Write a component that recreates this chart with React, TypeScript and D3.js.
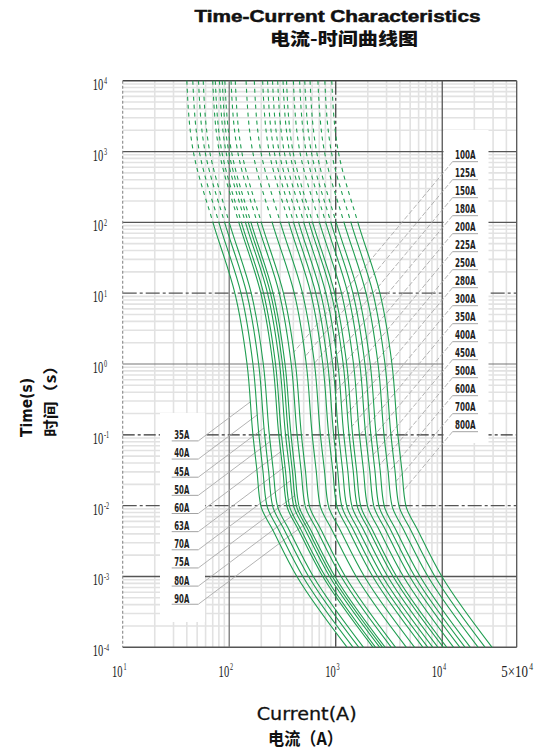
import React from 'react';
import * as d3 from 'd3';

const fuseRatings = ['35A','40A','45A','50A','60A','63A','70A','75A','80A','90A','100A','125A','150A','180A','200A','225A','250A','280A','300A','350A','400A','450A','500A','600A','700A','800A'];

// time points (s) at which the currents below were read
const timePoints = [10000, 1000, 100, 10, 1, 0.1, 0.0316, 0.01, 0.00447, 0.001, 0.0001];

// currents (A) read for each fuse rating at the time points above
const fuseCurrents: number[][] = [
  [40, 46.0, 70.3, 113, 147, 167, 182, 198, 258, 432, 1280],
  [45.5, 52.4, 79.9, 129, 167, 190, 207, 226, 293, 491, 1456],
  [51.5, 59.3, 90.5, 146, 189, 215, 234, 255, 331, 556, 1648],
  [57, 65.6, 100, 161, 209, 238, 259, 283, 367, 616, 1824],
  [70, 80.6, 123, 198, 257, 292, 319, 347, 450, 756, 2240],
  [74, 85.2, 130, 210, 272, 309, 337, 367, 476, 799, 2368],
  [81, 93.2, 142, 229, 297, 338, 369, 402, 521, 875, 2592],
  [86, 99.0, 151, 244, 316, 359, 391, 427, 554, 929, 2752],
  [91, 105, 160, 258, 334, 380, 414, 451, 586, 983, 2912],
  [104, 120, 183, 295, 382, 434, 473, 516, 670, 1123, 3328],
  [114, 131, 200, 323, 419, 476, 519, 565, 734, 1231, 3648],
  [144, 166, 253, 408, 529, 601, 655, 714, 927, 1555, 4608],
  [172, 198, 302, 487, 632, 718, 783, 853, 1107, 1858, 5504],
  [206, 237, 362, 583, 756, 860, 938, 1022, 1326, 2225, 6592],
  [229, 264, 402, 649, 841, 956, 1042, 1136, 1474, 2473, 7328],
  [255, 294, 448, 722, 936, 1065, 1161, 1265, 1642, 2754, 8160],
  [285, 328, 501, 807, 1047, 1190, 1297, 1414, 1835, 3078, 9120],
  [320, 368, 562, 906, 1175, 1336, 1457, 1587, 2060, 3456, 10240],
  [345, 397, 606, 977, 1267, 1440, 1570, 1711, 2221, 3726, 11040],
  [400, 460, 703, 1133, 1469, 1670, 1821, 1984, 2575, 4320, 12800],
  [458, 527, 805, 1297, 1682, 1912, 2085, 2272, 2949, 4946, 14656],
  [512, 589, 900, 1450, 1880, 2138, 2331, 2540, 3296, 5530, 16384],
  [574, 661, 1009, 1626, 2108, 2396, 2613, 2847, 3695, 6199, 18368],
  [680, 783, 1195, 1926, 2497, 2839, 3095, 3373, 4378, 7344, 21760],
  [790, 909, 1388, 2237, 2901, 3298, 3596, 3918, 5086, 8532, 25280],
  [918, 1057, 1613, 2600, 3371, 3833, 4179, 4553, 5910, 9914, 29376],
];

const leftLabelCount = 10;

const yTickExps = [4, 3, 2, 1, 0, -1, -2, -3, -4];
const xTickValues = [10, 100, 1000, 10000, 50000];
const xTickMant = ['', '', '', '', '5×'];
const xTickExps = ['1', '2', '3', '4', '4'];

const GREEN = '#1f9d50';

type Pt = [number, number];

function cross(ax: number, ay: number, bx: number, by: number) {
  return ax * by - ay * bx;
}

function hit(pts: Pt[], x0: number, y0: number, dx: number, dy: number): Pt | null {
  let best: Pt | null = null;
  let bestS = Infinity;
  for (let i = 0; i < pts.length - 1; i++) {
    const [ax, ay] = pts[i];
    const [bx, by] = pts[i + 1];
    const qx = bx - ax, qy = by - ay;
    const den = cross(dx, dy, qx, qy);
    if (Math.abs(den) < 1e-9) continue;
    const s = cross(ax - x0, ay - y0, qx, qy) / den;
    const u = cross(ax - x0, ay - y0, dx, dy) / den;
    if (s > 0 && u >= 0 && u <= 1 && s < bestS) {
      bestS = s;
      best = [x0 + dx * s, y0 + dy * s];
    }
  }
  return best;
}

export default function App() {
  const W = 552, H = 753;
  const x = d3.scaleLog().domain([10, 50000]).range([122.7, 516.7]);
  const y = d3.scaleLog().domain([1e4, 1e-4]).range([80.7, 647.3]);
  const x0 = x(10), x1 = x(50000), y0 = y(1e4), y1 = y(1e-4);

  const line = d3.line<Pt>().x(d => x(d[0])).y(d => y(d[1])).curve(d3.curveMonotoneY);
  const yCut = y(100);

  const xMinor: number[] = [];
  for (let d = 1; d <= 4; d++) for (let k = 2; k <= 9; k++) {
    const v = k * Math.pow(10, d);
    if (v < 50000) xMinor.push(v);
  }
  const yMinor: number[] = [];
  for (let d = -4; d <= 3; d++) for (let k = 2; k <= 9; k++) yMinor.push(k * Math.pow(10, d));

  const hMajorStyle: Record<number, { c: string; dash?: string; w: number }> = {
    4: { c: '#444', w: 1.4 },
    3: { c: '#555', w: 1.3 },
    2: { c: '#555', w: 1.3 },
    1: { c: '#555', w: 1.3, dash: '14,3,3,3' },
    0: { c: '#777', w: 1.2 },
    [-1]: { c: '#333', w: 1.3, dash: '12,3,3,3' },
    [-2]: { c: '#555', w: 1.3, dash: '14,3,3,3' },
    [-3]: { c: '#555', w: 1.3 },
    [-4]: { c: '#555', w: 1.4 },
  };

  const curves = fuseCurrents.map(cs => cs.map((c, i) => [c, timePoints[i]] as Pt));
  const pxCurves = fuseCurrents.map(cs => cs.map((c, i) => [x(c), y(timePoints[i])] as Pt));

  const leftBase = 439.3, leftStep = 18.15;
  const rightBase = 159.3, rightStep = 18;

  const condensed = "'Liberation Sans Narrow', 'DejaVu Sans Condensed', 'Arial Narrow', sans-serif";
  const serif = "'Liberation Serif', 'DejaVu Serif', serif";

  return (
    <svg width={W} height={H} style={{ position: 'absolute', left: 0, top: 0, background: '#fff' }}>
      <defs>
        <clipPath id="upperClip"><rect x={0} y={0} width={W} height={yCut} /></clipPath>
        <clipPath id="lowerClip"><rect x={0} y={yCut} width={W} height={H - yCut} /></clipPath>
      </defs>

      {/* minor grid */}
      <g stroke="#e2e2e2" strokeWidth={1.6}>
        {xMinor.map(v => <line key={'xm' + v} x1={x(v)} x2={x(v)} y1={y0} y2={y1} />)}
        {yMinor.map(v => <line key={'ym' + v} x1={x0} x2={x1} y1={y(v)} y2={y(v)} />)}
      </g>

      {/* major grid */}
      <g fill="none">
        {yTickExps.map(e => {
          const s = hMajorStyle[e];
          const yy = y(Math.pow(10, e));
          return <line key={'hy' + e} x1={x0} x2={x1} y1={yy} y2={yy} stroke={s.c} strokeWidth={s.w} strokeDasharray={s.dash} />;
        })}
        <line x1={x0} x2={x0} y1={y0} y2={y1} stroke="#888" strokeWidth={1.1} strokeDasharray="3,2" />
        <line x1={x(100)} x2={x(100)} y1={y0} y2={y1} stroke="#777" strokeWidth={1.3} />
        <line x1={x(1000)} x2={x(1000)} y1={y0} y2={y1} stroke="#444" strokeWidth={1.3} strokeDasharray="14,3,3,3" />
        <line x1={x(10000)} x2={x(10000)} y1={y0} y2={y1} stroke="#555" strokeWidth={1.3} />
        <line x1={x1} x2={x1} y1={y0} y2={y1} stroke="#555" strokeWidth={1.3} />
      </g>

      {/* label boxes */}
      <rect x={443.5} y={130} width={45} height={313} fill="#fff" />
      <rect x={160} y={413} width={45} height={209} fill="#fff" />

      {/* leader lines */}
      <g>
        {fuseRatings.map((r, i) => {
          if (i < leftLabelCount) {
            const by = leftBase + i * leftStep + 1.6;
            const p = hit(pxCurves[i], 198.3, by, 1, -0.75);
            return (
              <g key={'ll' + r}>
                <line x1={171.7} x2={198.3} y1={by} y2={by} stroke="#999" strokeWidth={0.9} />
                {p && <line x1={198.3} y1={by} x2={p[0]} y2={p[1]} stroke="#aaa" strokeWidth={0.9} />}
              </g>
            );
          }
          const j = i - leftLabelCount;
          const by = rightBase + j * rightStep + 2.4;
          const p = hit(pxCurves[i], 452.5, by, -1, 1.2);
          return (
            <g key={'rl' + r}>
              <line x1={452.5} x2={478} y1={by} y2={by} stroke="#999" strokeWidth={0.9} />
              {p && <line x1={452.5} y1={by} x2={p[0]} y2={p[1]} stroke="#aaa" strokeWidth={0.9} strokeDasharray="5,2" />}
            </g>
          );
        })}
      </g>

      {/* curves */}
      <g fill="none" stroke={GREEN} strokeWidth={1.1}>
        {curves.map((c, i) => (
          <g key={'c' + i}>
            <path d={line(c) || ''} clipPath="url(#upperClip)" strokeDasharray="4,4" />
            <path d={line(c) || ''} clipPath="url(#lowerClip)" />
          </g>
        ))}
      </g>

      {/* labels */}
      <g fontFamily={condensed} fontWeight="bold" fontSize={12} fill="#222">
        {fuseRatings.map((r, i) => {
          if (i < leftLabelCount) {
            return <text key={'lt' + r} x={174.3} y={leftBase + i * leftStep} textLength={15} lengthAdjust="spacingAndGlyphs">{r}</text>;
          }
          const j = i - leftLabelCount;
          return <text key={'rt' + r} x={455} y={rightBase + j * rightStep} textLength={20.5} lengthAdjust="spacingAndGlyphs">{r}</text>;
        })}
      </g>

      {/* y tick labels */}
      <g fontFamily={serif} fill="#222">
        {yTickExps.map(e => {
          const yy = y(Math.pow(10, e));
          return (
            <text key={'yt' + e} transform={`translate(92.8,${yy + 9}) scale(0.62,1)`} fontSize={17}>
              10<tspan dx={1} dy={-5.6} fontSize={10}>{String(e)}</tspan>
            </text>
          );
        })}
      </g>

      {/* x tick labels */}
      <g fontFamily={serif} fill="#222">
        {xTickValues.map((v, i) => {
          const xx = x(v);
          const mant = xTickMant[i];
          if (mant) {
            return (
              <text key={'xt' + v} transform={`translate(${xx - 15.5},677) scale(0.76,1)`} fontSize={17}>
                {mant + '10'}<tspan dx={2} dy={-7} fontSize={10}>{xTickExps[i]}</tspan>
              </text>
            );
          }
          return (
            <text key={'xt' + v} transform={`translate(${xx - 10.6},677) scale(0.62,1)`} fontSize={17}>
              10<tspan dx={1.5} dy={-7} fontSize={10}>{xTickExps[i]}</tspan>
            </text>
          );
        })}
      </g>

      {/* titles */}
      <text x={337.5} y={21.7} textAnchor="middle" fontFamily="'Liberation Sans', Arial, sans-serif" fontWeight="900" fontSize={17} fill="#111" stroke="#111" strokeWidth={0.5} textLength={286} lengthAdjust="spacingAndGlyphs">Time-Current Characteristics</text>
      <text x={344} y={44.5} textAnchor="middle" fontFamily="'Noto Sans CJK SC', sans-serif" fontWeight="900" fontSize={16.5} fill="#111" textLength={148} lengthAdjust="spacingAndGlyphs">电流-时间曲线图</text>

      <text transform="translate(31.5,407.5) rotate(-90)" textAnchor="middle" fontFamily="'DejaVu Sans', sans-serif" fontWeight="bold" fontSize={15.5} fill="#111" textLength={59} lengthAdjust="spacingAndGlyphs">Time(s)</text>
      <text transform="translate(55.5,397) rotate(-90)" textAnchor="middle" fontFamily="'Noto Sans CJK SC', sans-serif" fontWeight="bold" fontSize={15} fill="#111" textLength={80} lengthAdjust="spacingAndGlyphs">时间（s）</text>

      <text x={306.7} y={720} textAnchor="middle" fontFamily="'DejaVu Sans', sans-serif" fontSize={18.5} fill="#111" stroke="#111" strokeWidth={0.3} textLength={100} lengthAdjust="spacingAndGlyphs">Current(A)</text>
      <text x={305.5} y={744.5} textAnchor="middle" fontFamily="'Noto Sans CJK SC', sans-serif" fontWeight="bold" fontSize={17.5} fill="#111" textLength={75} lengthAdjust="spacingAndGlyphs">电流（A）</text>
    </svg>
  );
}
